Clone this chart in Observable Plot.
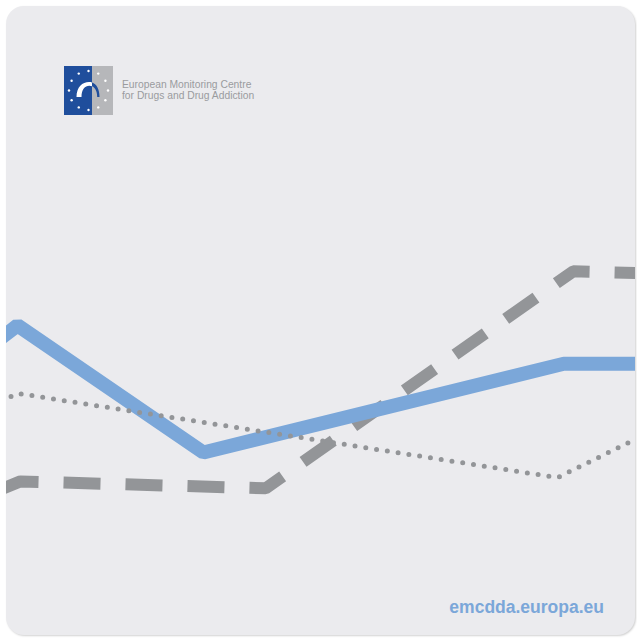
<!DOCTYPE html>
<html>
<head>
<meta charset="utf-8">
<script src="https://cdn.jsdelivr.net/npm/d3@7"></script>
<script src="https://cdn.jsdelivr.net/npm/@observablehq/plot@0.6"></script>
<style>
  html, body { margin: 0; padding: 0; background: #ffffff; }
  body { width: 637px; height: 638px; position: relative; overflow: hidden; font-family: "Liberation Sans", Arial, sans-serif; }
  #card { position: absolute; left: 6px; top: 6px; width: 629px; height: 629px; border-radius: 18px; background: #ebebee; overflow: hidden; box-shadow: 1px 1px 2px rgba(0,0,0,0.18); }
  #chart { position: absolute; left: 0; top: 0; }
  #logo { position: absolute; left: 58px; top: 60px; }
  #org { position: absolute; left: 116px; top: 73px; font-size: 10.3px; line-height: 11px; color: #9a9b9e; }
  #url { position: absolute; right: 31px; top: 591px; font-size: 17.5px; font-weight: bold; color: #7ba7d9; }
</style>
</head>
<body>
<div id="card">
  <div id="chart"></div>
  <svg id="logo" width="50" height="50" viewBox="0 0 50 50">
    <defs>
      <clipPath id="cl"><rect x="0" y="0" width="28" height="50"/></clipPath>
      <clipPath id="cr"><rect x="28" y="0" width="22" height="50"/></clipPath>
    </defs>
    <rect x="0" y="0" width="28" height="49" fill="#1f4e9c"/>
    <rect x="28" y="0" width="21" height="49" fill="#b6b7ba"/>
    <g id="stars" fill="#ffffff"></g>
    <path id="arch" clip-path="url(#cl)" fill="#ffffff" d="M12.5,31 C12.5,21 18.5,16 25,16 C31,16 35.5,21 35.5,31 L33.2,31 C33.2,24 30,19.8 25.3,19.8 C21,19.8 17.5,23.5 17.5,31 Z"/>
    <path clip-path="url(#cr)" fill="#1f4e9c" d="M12.5,31 C12.5,21 18.5,16 25,16 C31,16 35.5,21 35.5,31 L33.2,31 C33.2,24 30,19.8 25.3,19.8 C21,19.8 17.5,23.5 17.5,31 Z"/>
  </svg>
  <div id="org">European Monitoring Centre<br>for Drugs and Drug Addiction</div>
  <div id="url">emcdda.europa.eu</div>
</div>
<script>
// Decorative series (abstract units, 0–100 on both axes)
const blueX   = [-1.75, 1.75, 31.3, 88.6, 101.6];
const blueY   = [46.6, 49.3, 29.1, 43.2, 43.2];
const dashedX = [-1.75, 2.2, 41.2, 90.1, 101.6];
const dashedY = [22.9, 24.5, 23.4, 57.9, 57.6];
const dottedX = [0.72, 1.75, 87.6, 101.6];
const dottedY = [38.0, 38.5, 25.1, 32.0];

const rows = (xs, ys) => xs.map((x, i) => ({x, y: ys[i]}));

// logo stars
const stars = d3.select("#stars");
for (let i = 0; i < 12; i++) {
  const a = i / 12 * 2 * Math.PI;
  stars.append("circle").attr("cx", 24.5 + 19.5 * Math.sin(a)).attr("cy", 24.5 - 19.5 * Math.cos(a)).attr("r", 1.2);
}

const chart = Plot.plot({
  width: 629,
  height: 629,
  margin: 0,
  x: {domain: [0, 100], axis: null},
  y: {domain: [0, 100], axis: null},
  style: {background: "transparent", overflow: "visible"},
  marks: [
    Plot.line(rows(dashedX, dashedY), {x: "x", y: "y", stroke: "#939598", strokeWidth: 12, strokeDasharray: "37,25", strokeDashoffset: 54, strokeLinecap: "butt", strokeLinejoin: "miter"}),
    Plot.line(rows(blueX, blueY), {x: "x", y: "y", stroke: "#7ba7d9", strokeWidth: 14, strokeLinejoin: "miter", strokeLinecap: "butt"}),
    Plot.line(rows(dottedX, dottedY), {x: "x", y: "y", stroke: "#939598", strokeWidth: 5, strokeDasharray: "0,10.9", strokeLinecap: "round", strokeLinejoin: "round"})
  ]
});
document.getElementById("chart").appendChild(chart);
</script>
</body>
</html>
